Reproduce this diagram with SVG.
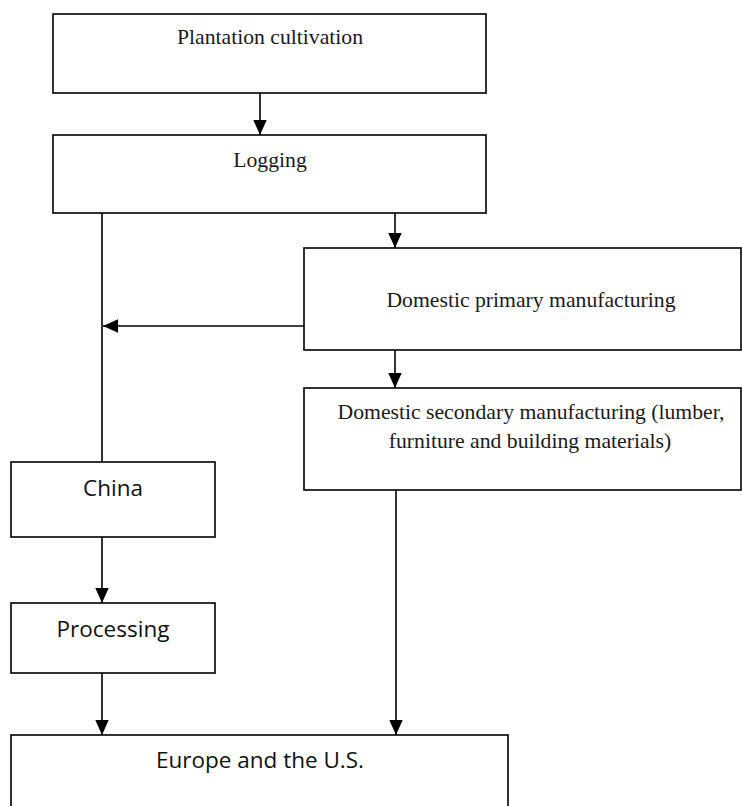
<svg xmlns="http://www.w3.org/2000/svg" width="742" height="806" viewBox="0 0 742 806">
  <style>
    .box { fill: #ffffff; stroke: #000000; stroke-width: 1.6; }
    .serif { font-family: "Liberation Serif", "Times New Roman", serif; font-size: 21.7px; fill: #1a1a1a; text-anchor: middle; }
    .sans { font-family: "Open Sans", "Noto Sans", sans-serif; font-size: 22.5px; fill: #111111; text-anchor: middle; }
    .link { fill: none; stroke: #000000; stroke-width: 1.6; }
  </style>
  <defs>
    <marker id="arrow" markerUnits="userSpaceOnUse" markerWidth="15" markerHeight="15" viewBox="0 0 15 15" refX="15" refY="7.5" orient="auto">
      <path d="M0,0.8 L15,7.5 L0,14.2 Z" fill="#000000"/>
    </marker>
  </defs>
  <rect width="742" height="806" fill="#ffffff"/>

  <g id="connectors">
    <line class="link" x1="260" y1="93" x2="260" y2="135" marker-end="url(#arrow)"/>
    <line class="link" x1="102" y1="213" x2="102" y2="462"/>
    <line class="link" x1="395" y1="213" x2="395" y2="248" marker-end="url(#arrow)"/>
    <line class="link" x1="304" y1="326" x2="103" y2="326" marker-end="url(#arrow)"/>
    <line class="link" x1="395" y1="350" x2="395" y2="388" marker-end="url(#arrow)"/>
    <line class="link" x1="396" y1="490" x2="396" y2="735" marker-end="url(#arrow)"/>
    <line class="link" x1="102" y1="537" x2="102" y2="603" marker-end="url(#arrow)"/>
    <line class="link" x1="102" y1="673" x2="102" y2="735" marker-end="url(#arrow)"/>
  </g>

  <g id="plantation">
    <rect class="box" x="53" y="14" width="433" height="79"/>
    <text class="serif" x="270" y="44">Plantation cultivation</text>
  </g>

  <g id="logging">
    <rect class="box" x="53" y="135" width="433" height="78"/>
    <text class="serif" x="270" y="167">Logging</text>
  </g>

  <g id="primary">
    <rect class="box" x="304" y="248" width="437" height="102"/>
    <text class="serif" x="531" y="307">Domestic primary manufacturing</text>
  </g>

  <g id="secondary">
    <rect class="box" x="304" y="388" width="437" height="102"/>
    <text class="serif" x="531" y="419">Domestic secondary manufacturing (lumber,</text>
    <text class="serif" x="530" y="448">furniture and building materials)</text>
  </g>

  <g id="china">
    <rect class="box" x="11" y="462" width="204" height="75"/>
    <text class="sans" x="113" y="496">China</text>
  </g>

  <g id="processing">
    <rect class="box" x="11" y="603" width="204" height="70"/>
    <text class="sans" x="113" y="637">Processing</text>
  </g>

  <g id="europe-us">
    <rect class="box" x="11" y="735" width="497" height="100"/>
    <text class="sans" x="260" y="768">Europe and the U.S.</text>
  </g>
</svg>
